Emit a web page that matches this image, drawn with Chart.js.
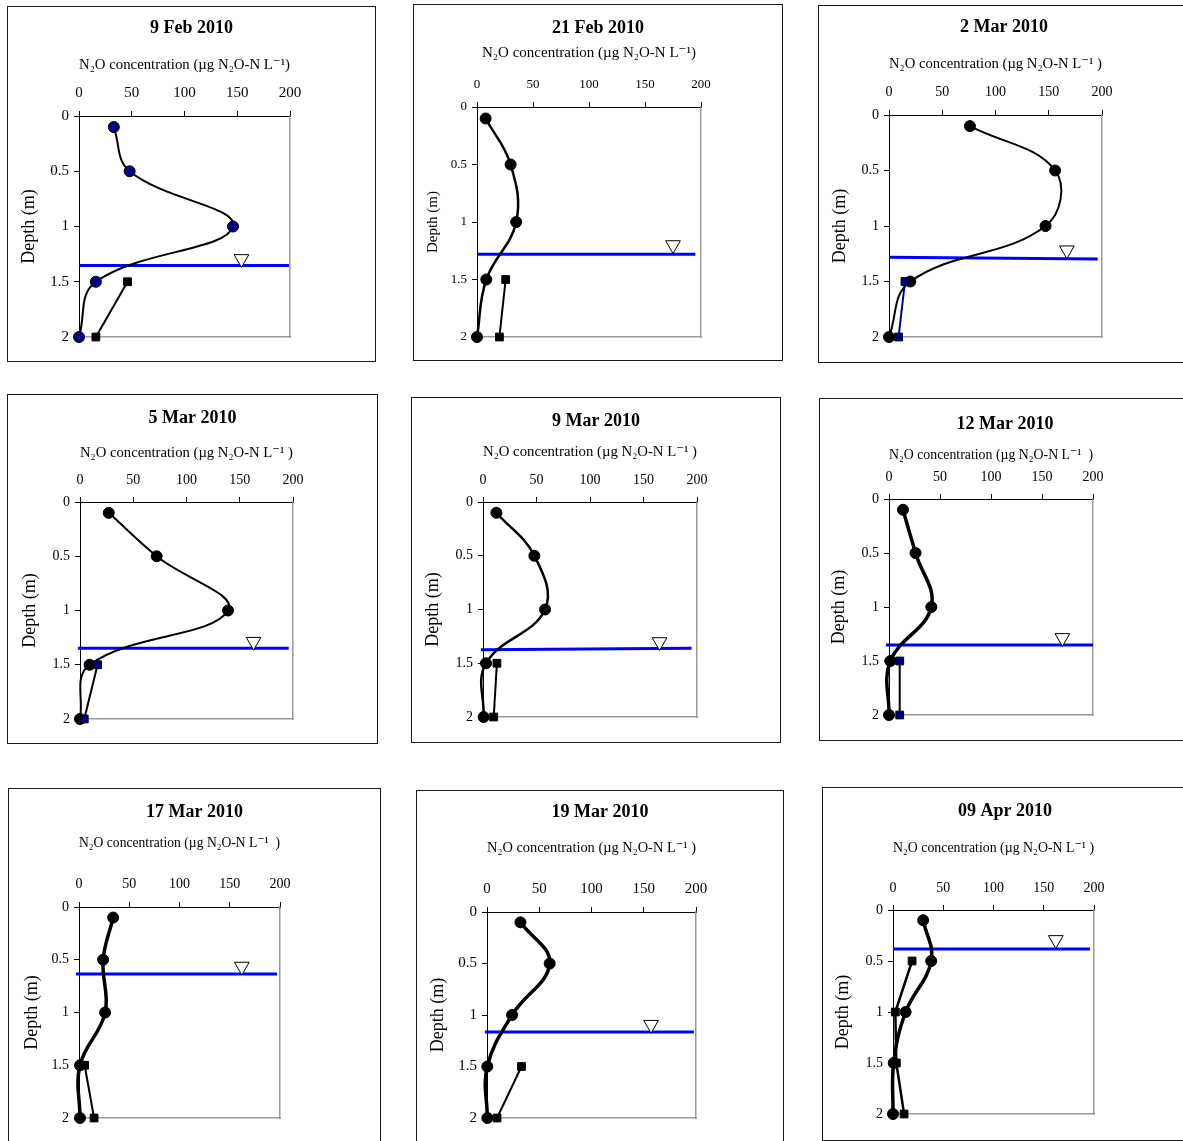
<!DOCTYPE html>
<html>
<head>
<meta charset="utf-8">
<script src="https://cdn.jsdelivr.net/npm/chart.js@4/dist/chart.umd.min.js"></script>
<style>
  html, body { margin: 0; padding: 0; background: #fff; overflow: hidden; width: 1183px; height: 1141px; }
  .panel { position: absolute; border: 1px solid #1a1a1a; box-sizing: border-box; background: #fff; overflow: hidden; }
  .panel canvas { position: absolute; left: 0; top: 0; }
</style>
</head>
<body>
<script>
// ---------- DATA ----------
const panelTitles = ['9 Feb 2010', '21 Feb 2010', '2 Mar 2010', '5 Mar 2010', '9 Mar 2010',
                     '12 Mar 2010', '17 Mar 2010', '19 Mar 2010', '09 Apr 2010'];
const xAxisTitles = [
  'N₂O concentration (µg N₂O-N L⁻¹)',
  'N₂O concentration (µg N₂O-N L⁻¹)',
  'N₂O concentration (µg N₂O-N L⁻¹ )',
  'N₂O concentration (µg N₂O-N L⁻¹ )',
  'N₂O concentration (µg N₂O-N L⁻¹ )',
  'N₂O concentration (µg N₂O-N L⁻¹  )',
  'N₂O concentration (µg N₂O-N L⁻¹  )',
  'N₂O concentration (µg N₂O-N L⁻¹ )',
  'N₂O concentration (µg N₂O-N L⁻¹ )'
];
const yAxisTitle = 'Depth (m)';
const xTicks = [0, 50, 100, 150, 200];
const xTickLabels = ['0', '50', '100', '150', '200'];
const yTicks = [0, 0.5, 1, 1.5, 2];
const yTickLabels = ['0', '0.5', '1', '1.5', '2'];

// circle series (depth profile)
const circleDepths = [0.1, 0.5, 1.0, 1.5, 2.0];
const n2oCircles = [
  [33, 48, 146, 16, 0],
  [7.7, 30, 35, 8.3, 0],
  [76, 156, 147, 20, 0],
  [27, 72, 139, 9, 0],
  [12.5, 48, 58, 2.8, 0.6],
  [13.7, 26, 41.5, 1.3, 0],
  [34, 24, 26, 1, 1],
  [32, 60, 24, 0.3, 0.3],
  [30, 38, 12.6, 0.7, 0]
];
// square series
const squareDepths = [[1.5, 2], [1.5, 2], [1.5, 2], [1.5, 2], [1.5, 2], [1.5, 2], [1.5, 2], [1.5, 2], [0.5, 1, 1.5, 2]];
const n2oSquares = [[46, 16], [25.6, 20], [15, 9], [16.5, 4], [13, 10], [10.5, 10.5], [5.6, 15], [33, 9.6], [19, 2.3, 3.3, 11]];
// water table line
const waterDepthStart = [1.354, 1.281, 1.282, 1.349, 1.374, 1.352, 0.634, 1.165, 0.382];
const waterDepthEnd   = [1.354, 1.281, 1.297, 1.349, 1.361, 1.352, 0.634, 1.165, 0.382];
const waterXStart = [0, 0, 0, -2, -2, -3, -3, -2, 0];
const waterXEnd   = [199, 195, 196, 196, 195, 200, 197, 198, 196];
// water table symbol
const triangleX     = [154, 175, 167, 163, 165, 170, 162, 157, 162];
const triangleDepth = [1.293, 1.20, 1.218, 1.287, 1.302, 1.286, 0.564, 1.094, 0.293];

// ---------- STYLE / LAYOUT ----------
const FONT = "'Liberation Serif', 'Times New Roman', 'DejaVu Serif', serif";
const NAVY = '#000080';
const layouts = [
  {box:[7,6,369,356],   plot:[79,290,116,337],   titleY:28,  axisTitleY:65,  tickY:93,  depthX:29,  depthSize:18, tickSize:15, cw:2,   sw:2,   circleFill:NAVY,   squareFill:'#000', squareLine:'#000'},
  {box:[413,4,370,357], plot:[477,701,107,337],  titleY:28,  axisTitleY:53,  tickY:85,  depthX:433, depthSize:15, tickSize:13, cw:2.5, sw:2,   circleFill:'#000', squareFill:'#000', squareLine:'#000'},
  {box:[818,5,372,358], plot:[889,1102,115,337], titleY:27,  axisTitleY:64,  tickY:92,  depthX:840, depthSize:18, tickSize:14, cw:2,   sw:2,   circleFill:'#000', squareFill:NAVY,   squareLine:NAVY},
  {box:[7,394,371,350], plot:[80,293,502,719],   titleY:418, axisTitleY:453, tickY:480, depthX:30,  depthSize:18, tickSize:14, cw:2,   sw:2,   circleFill:'#000', squareFill:NAVY,   squareLine:'#000'},
  {box:[411,397,370,346], plot:[483,697,502,717],titleY:421, axisTitleY:452, tickY:480, depthX:433, depthSize:18, tickSize:14, cw:2.5, sw:2,   circleFill:'#000', squareFill:'#000', squareLine:'#000'},
  {box:[819,398,372,343], plot:[889,1093,499,715],titleY:424,axisTitleY:455, tickY:477, depthX:839, depthSize:18, tickSize:14, cw:3.5, sw:2,   circleFill:'#000', squareFill:NAVY,   squareLine:'#000'},
  {box:[8,788,373,372], plot:[79,280,907,1118],  titleY:812, axisTitleY:843, tickY:884, depthX:32,  depthSize:18, tickSize:14, cw:3.5, sw:2,   circleFill:'#000', squareFill:'#000', squareLine:'#000'},
  {box:[416,790,368,372], plot:[487,696,912,1118],titleY:812,axisTitleY:848, tickY:889, depthX:438, depthSize:18, tickSize:15, cw:3.5, sw:2,   circleFill:'#000', squareFill:'#000', squareLine:'#000'},
  {box:[822,787,366,354], plot:[893,1094,910,1114],titleY:811,axisTitleY:848, tickY:888, depthX:843, depthSize:18, tickSize:14, cw:3.5, sw:2.5, circleFill:'#000', squareFill:'#000', squareLine:'#000'}
];

function labelFor(values, labels) {
  return v => { const i = values.findIndex(t => Math.abs(t - v) < 1e-9); return i >= 0 ? labels[i] : ''; };
}

layouts.forEach((lay, i) => {
  const [L, T, W, H] = lay.box;
  const div = document.createElement('div');
  div.className = 'panel';
  div.style.left = L + 'px'; div.style.top = T + 'px';
  div.style.width = W + 'px'; div.style.height = H + 'px';
  document.body.appendChild(div);
  const cw = W - 2, ch = H - 2, cx = L + 1, cy = T + 1;
  const canvas = document.createElement('canvas');
  canvas.width = cw; canvas.height = ch;
  canvas.style.width = cw + 'px'; canvas.style.height = ch + 'px';
  div.appendChild(canvas);

  const [px0, px1, py0, py1] = lay.plot;
  const chartLeft = px0 - cx, chartRight = px1 - cx, chartTop = py0 - cy, chartBottom = py1 - cy;
  const titleSize = 18, titleLH = titleSize * 1.2;
  const titlePadTop = (lay.titleY - cy) - titleLH / 2;
  const titleBottom = titlePadTop + titleLH;
  const axisTitleSize = 15, axisTitleLH = axisTitleSize * 1.2;
  const axisTitlePad = Math.max(0, (lay.axisTitleY - cy) - titleBottom - axisTitleLH / 2);
  const tickLH = lay.tickSize * 1.2;
  const xTickPad = chartTop - (lay.tickY - cy) - 5 - tickLH / 2;
  const depthLH = lay.depthSize * 1.2;
  const depthPad = Math.max(0, (lay.depthX - cx) - depthLH / 2);

  const circles = circleDepths.map((d, k) => ({x: n2oCircles[i][k], y: d}));
  const squares = squareDepths[i].map((d, k) => ({x: n2oSquares[i][k], y: d}));
  const water = [{x: waterXStart[i], y: waterDepthStart[i]}, {x: waterXEnd[i], y: waterDepthEnd[i]}];
  const tri = [{x: triangleX[i], y: triangleDepth[i]}];

  const tickFont = {family: FONT, size: lay.tickSize};

  new Chart(canvas, {
    type: 'scatter',
    data: {
      datasets: [
        { data: squares, showLine: true, tension: 0, borderColor: lay.squareLine, borderWidth: lay.sw,
          pointStyle: 'rect', pointRadius: 5.5, pointBackgroundColor: lay.squareFill, pointBorderColor: '#000',
          pointBorderWidth: 1, clip: false },
        { data: circles, showLine: true, tension: 0.4, borderColor: '#000', borderWidth: lay.cw,
          pointStyle: 'circle', pointRadius: 5.5, pointBackgroundColor: lay.circleFill, pointBorderColor: '#000',
          pointBorderWidth: 1, clip: false },
        { data: tri, showLine: false, pointStyle: 'triangle', rotation: 180, pointRadius: 8.5,
          pointBackgroundColor: '#fff', pointBorderColor: '#000', pointBorderWidth: 1, clip: false },
        { data: water, showLine: true, tension: 0, borderColor: '#0000ff', borderWidth: 3, pointRadius: 0,
          clip: false }
      ]
    },
    options: {
      responsive: false,
      animation: false,
      events: [],
      layout: { autoPadding: false, padding: 0 },
      elements: { line: { capBezierPoints: false } },
      plugins: {
        legend: { display: false },
        tooltip: { enabled: false },
        title: { display: true, text: panelTitles[i], color: '#000',
                 font: {family: FONT, size: titleSize, weight: 'bold', lineHeight: 1.2},
                 padding: {top: titlePadTop, bottom: 0} }
      },
      scales: {
        x: {
          type: 'linear', position: 'top', min: 0, max: 200,
          afterBuildTicks: s => { s.ticks = xTicks.map(v => ({value: v})); },
          ticks: { callback: labelFor(xTicks, xTickLabels), color: '#000', font: tickFont, padding: xTickPad, maxRotation: 0 },
          grid: { display: true, drawOnChartArea: false, drawTicks: true, tickLength: 5, color: '#000', lineWidth: 1 },
          border: { display: true, color: '#000', width: 1 },
          title: { display: true, text: xAxisTitles[i], color: '#000',
                   font: {family: FONT, size: axisTitleSize, lineHeight: 1.2}, padding: {top: axisTitlePad, bottom: 0} },
          afterFit: s => { s.height = chartTop - titleBottom; }
        },
        y: {
          type: 'linear', position: 'left', reverse: true, min: 0, max: 2,
          afterBuildTicks: s => { s.ticks = yTicks.map(v => ({value: v})); },
          ticks: { callback: labelFor(yTicks, yTickLabels), color: '#000', font: tickFont, padding: 5 },
          grid: { display: true, drawOnChartArea: false, drawTicks: true, tickLength: 5, color: '#000', lineWidth: 1 },
          border: { display: true, color: '#000', width: 1 },
          title: { display: true, text: yAxisTitle, color: '#000',
                   font: {family: FONT, size: lay.depthSize, lineHeight: 1.2}, padding: {top: depthPad, bottom: 0} },
          afterFit: s => { s.width = chartLeft; }
        },
        x2: {
          type: 'linear', position: 'bottom', min: 0, max: 200, display: true,
          ticks: { display: false }, grid: { display: false, drawTicks: false },
          border: { display: true, color: '#9a9a9a', width: 1.5 },
          afterFit: s => { s.height = ch - chartBottom; }
        },
        y2: {
          type: 'linear', position: 'right', min: 0, max: 2, reverse: true, display: true,
          ticks: { display: false }, grid: { display: false, drawTicks: false },
          border: { display: true, color: '#9a9a9a', width: 1.5 },
          afterFit: s => { s.width = cw - chartRight; }
        }
      }
    }
  });
});
</script>
</body>
</html>
